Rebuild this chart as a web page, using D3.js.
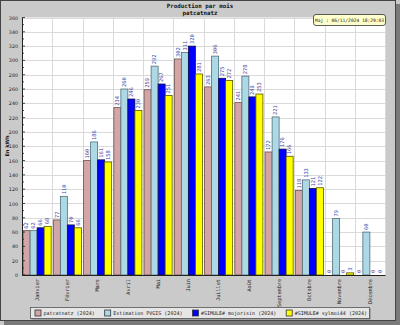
<!DOCTYPE html>
<html><head><meta charset="utf-8">
<script src="https://cdn.jsdelivr.net/npm/d3@7"></script>
<style>body{margin:0;background:#fff}svg{display:block}</style>
</head><body>
<svg id="c" width="400" height="325"></svg>
<script>
const months = ["Janvier","Février","Mars","Avril","Mai","Juin","Juillet","Août","Septembre","Octobre","Novembre","Décembre"];
const seriesNames = ["patcatnatz (2024)","Estimation PVGIS (2024)","#SIMULE# mojorisin (2024)","#SIMULE# sylmoi44 (2024)"];
const patcatnatz = [62,77,160,234,259,302,263,241,172,118,0,0];
const pvgis = [62,110,186,260,292,311,306,278,221,133,79,60];
const mojorisin = [66,70,161,246,267,320,275,249,176,121,0,0];
const sylmoi44 = [68,66,158,230,251,281,272,253,166,122,3,0];
const yTicks = d3.range(0,361,20);
const title = "Production par mois";
const subtitle = "patcatnatz";
const stamp = "Maj : 06/11/2024 18:29:03";
const yTitle = "En kWh";

const colors = ["#d4a5a5","#add8e6","#0000ff","#ffff00"];
const strokes = ["#6b4f4f","#4f6f78","#101040","#555500"];
const allSeries = [patcatnatz,pvgis,mojorisin,sylmoi44];
const mono = "DejaVu Sans Mono";

const svg = d3.select("#c");
// shadow + frame
svg.append("rect").attr("x",0).attr("y",0).attr("width",400).attr("height",325).attr("fill","#c8c8c8");
svg.append("rect").attr("x",4).attr("y",4).attr("width",396).attr("height",321).attr("fill","#7a7a7a");
svg.append("rect").attr("x",0.5).attr("y",0.5).attr("width",395).attr("height",320).attr("fill","#cacaca").attr("stroke","#444");

const L=22,R=385,T=17.5,B=275;
const x0 = d3.scaleBand().domain(months).range([L,R]);
const x1 = d3.scaleBand().domain(d3.range(4)).range([1.1, x0.bandwidth()-1.1]);
const y = d3.scaleLinear().domain([0,360]).range([B,T]);

svg.append("rect").attr("x",L).attr("y",T).attr("width",R-L).attr("height",B-T).attr("fill","#fff");
// gridlines
const g = svg.append("g");
g.selectAll(".hg").data(yTicks.slice(1)).join("line")
 .attr("x1",L).attr("x2",R).attr("y1",d=>Math.round(y(d))+0.5).attr("y2",d=>Math.round(y(d))+0.5)
 .attr("stroke","#dadada").attr("stroke-width",1);
g.selectAll(".vg").data(months.slice(1).map(m=>x0(m)).concat([R])).join("line")
 .attr("x1",d=>Math.round(d)+0.5).attr("x2",d=>Math.round(d)+0.5).attr("y1",T).attr("y2",B)
 .attr("stroke","#dadada").attr("stroke-width",1);

// bars
const gb = svg.append("g");
allSeries.forEach((s,si)=>{
  gb.selectAll(".b"+si).data(s.map((v,i)=>({v,m:months[i]}))).join("rect")
    .attr("x",d=>x0(d.m)+x1(si)).attr("width",x1.bandwidth())
    .attr("y",d=>y(d.v)).attr("height",d=>B-y(d.v))
    .attr("fill",colors[si]).attr("stroke",strokes[si]).attr("stroke-width",0.8);
  gb.selectAll(".l"+si).data(s.map((v,i)=>({v,m:months[i]}))).join("text")
    .attr("transform",d=>`translate(${x0(d.m)+x1(si)+x1.bandwidth()/2+1.8},${y(d.v)-2}) rotate(-90)`)
    .attr("font-family",mono).attr("font-size",5.4).attr("fill","#4646a8")
    .text(d=>d.v);
});

// axes
const ya = d3.axisLeft(y).tickValues(yTicks).tickSize(0).tickPadding(4).tickFormat(d3.format("d"));
const yg = svg.append("g").attr("transform",`translate(${L},0)`).call(ya);
yg.select(".domain").attr("stroke","#222");
yg.selectAll("text").attr("font-family","DejaVu Sans").attr("font-size",4.8).attr("fill","#222");
// inner ticks
svg.append("g").selectAll("line").data(d3.range(0,361,10)).join("line")
 .attr("x1",L).attr("x2",d=>L+(d%20===0?3:2)).attr("y1",d=>y(d)).attr("y2",d=>y(d)).attr("stroke","#222").attr("stroke-width",0.8);

const xa = d3.axisBottom(x0).tickSize(0).tickPadding(0);
const xg = svg.append("g").attr("transform",`translate(0,${B})`).call(xa);
xg.select(".domain").attr("stroke","#222");
xg.selectAll("text").attr("font-family",mono).attr("font-size",5.2).attr("fill","#222")
  .attr("text-anchor","end").attr("dy",null).attr("y",0)
  .attr("transform","translate(1.8,4) rotate(-90)");

// titles
svg.append("text").attr("x",200).attr("y",8).attr("text-anchor","middle").attr("font-family",mono).attr("font-weight","bold").attr("font-size",5.8).attr("fill","#111").text(title);
svg.append("text").attr("x",200).attr("y",15).attr("text-anchor","middle").attr("font-family",mono).attr("font-weight","bold").attr("font-size",5.8).attr("fill","#111").text(subtitle);
svg.append("text").attr("transform","translate(9,146) rotate(-90)").attr("text-anchor","middle").attr("font-family","DejaVu Sans").attr("font-weight","bold").attr("font-size",5).attr("fill","#111").text(yTitle);

// stamp
svg.append("rect").attr("x",313.5).attr("y",14.5).attr("width",72).attr("height",11).attr("rx",2.5).attr("fill","#ffffcc").attr("stroke","#333").attr("stroke-width",0.8);
svg.append("text").attr("x",349.5).attr("y",22).attr("text-anchor","middle").attr("font-family",mono).attr("font-size",4.6).attr("fill","#222").text(stamp);

// legend
svg.append("rect").attr("x",31.5).attr("y",308.5).attr("width",339).attr("height",11).attr("fill","#777");
svg.append("rect").attr("x",30.5).attr("y",307.5).attr("width",339).attr("height",11).attr("fill","#e6e6e6").attr("stroke","#555").attr("stroke-width",0.8);
let lx = 35;
seriesNames.forEach((n,i)=>{
  svg.append("rect").attr("x",lx).attr("y",310).attr("width",6).attr("height",6).attr("fill",colors[i]).attr("stroke","#333").attr("stroke-width",0.8);
  const t = svg.append("text").attr("x",lx+8.5).attr("y",315.3).attr("font-family",mono).attr("font-size",5).attr("fill","#222").text(n);
  lx = lx + 8.5 + t.node().getComputedTextLength() + 10;
});
</script>
</body></html>
